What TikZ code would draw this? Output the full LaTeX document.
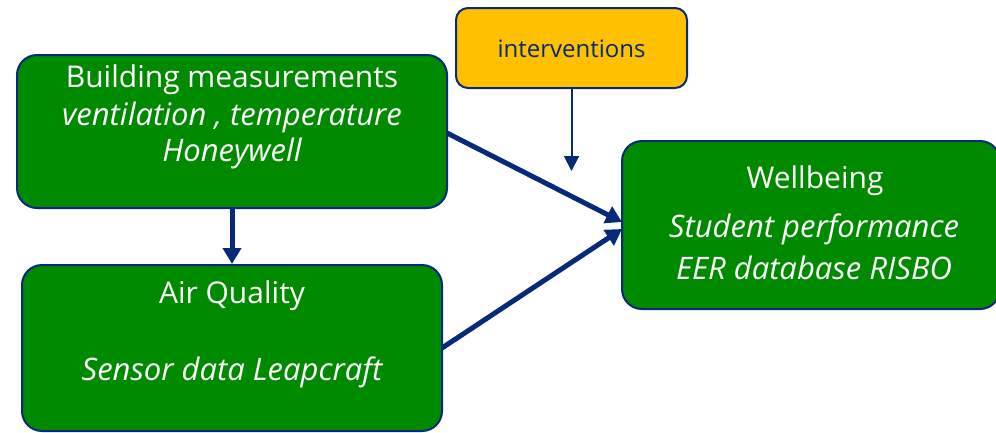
\documentclass[tikz,border=0pt]{standalone}
\usepackage{fontspec}
\setmainfont{Open Sans}
\usetikzlibrary{arrows.meta}
\definecolor{boxgreen}{HTML}{008A00}
\definecolor{navy}{HTML}{062A78}
\definecolor{amber}{HTML}{FFC000}
\begin{document}
\begin{tikzpicture}[x=1pt,y=-1pt,
  gbox/.style={draw=navy,line width=2pt,fill=boxgreen,rounded corners=20pt,inner sep=0pt},
  ybox/.style={draw=navy,line width=2pt,fill=amber,rounded corners=12pt,inner sep=0pt},
  wtxt/.style={text=white,font=\fontsize{30}{34}\selectfont,inner sep=0pt,anchor=base},
  witxt/.style={wtxt,font=\fontsize{31}{34}\selectfont\itshape},
  thick arrow/.style={draw=navy,line width=5pt,-{Triangle[length=16pt,width=18pt]}},
  thin arrow/.style={draw=navy,line width=2pt,-{Triangle[length=15pt,width=15pt]}}]
\useasboundingbox (0,0) rectangle (996,432);
\node[gbox,minimum width=430pt,minimum height=153pt] (A) at (232,131.5) {};
\node[gbox,minimum width=420pt,minimum height=166pt] (B) at (232,348) {};
\node[ybox,minimum width=231pt,minimum height=80pt] (I) at (571.5,48) {};
\node[gbox,minimum width=378pt,minimum height=168pt] (W) at (811,225) {};
\node[wtxt] (a1) at (232,87) {Building measurements};
\node[witxt] (a2) at (232,125) {ventilation , temperature};
\node[witxt] (a3) at (232,161) {Honeywell};
\node[wtxt] (b1) at (232,303) {Air Quality};
\node[witxt] (b2) at (232,380) {Sensor data Leapcraft};
\node[wtxt,text=navy,font=\fontsize{24}{28}\selectfont] (i1) at (571.5,57) {interventions};
\node[wtxt] (w1) at (815,188) {Wellbeing};
\node[witxt] (w2) at (814,237) {Student performance};
\node[witxt] (w3) at (814,279) {EER database RISBO};
\coordinate (iend) at (571.5,171);
\coordinate (wt) at (622,222);
\coordinate (wb) at (622,229);
\draw[thick arrow] (A.south) -- (B.north);
\draw[thick arrow] (447,133) -- (wt);
\draw[thick arrow] (442,348) -- (wb);
\draw[thin arrow] (I.south) -- (iend);
\end{tikzpicture}
\end{document}
